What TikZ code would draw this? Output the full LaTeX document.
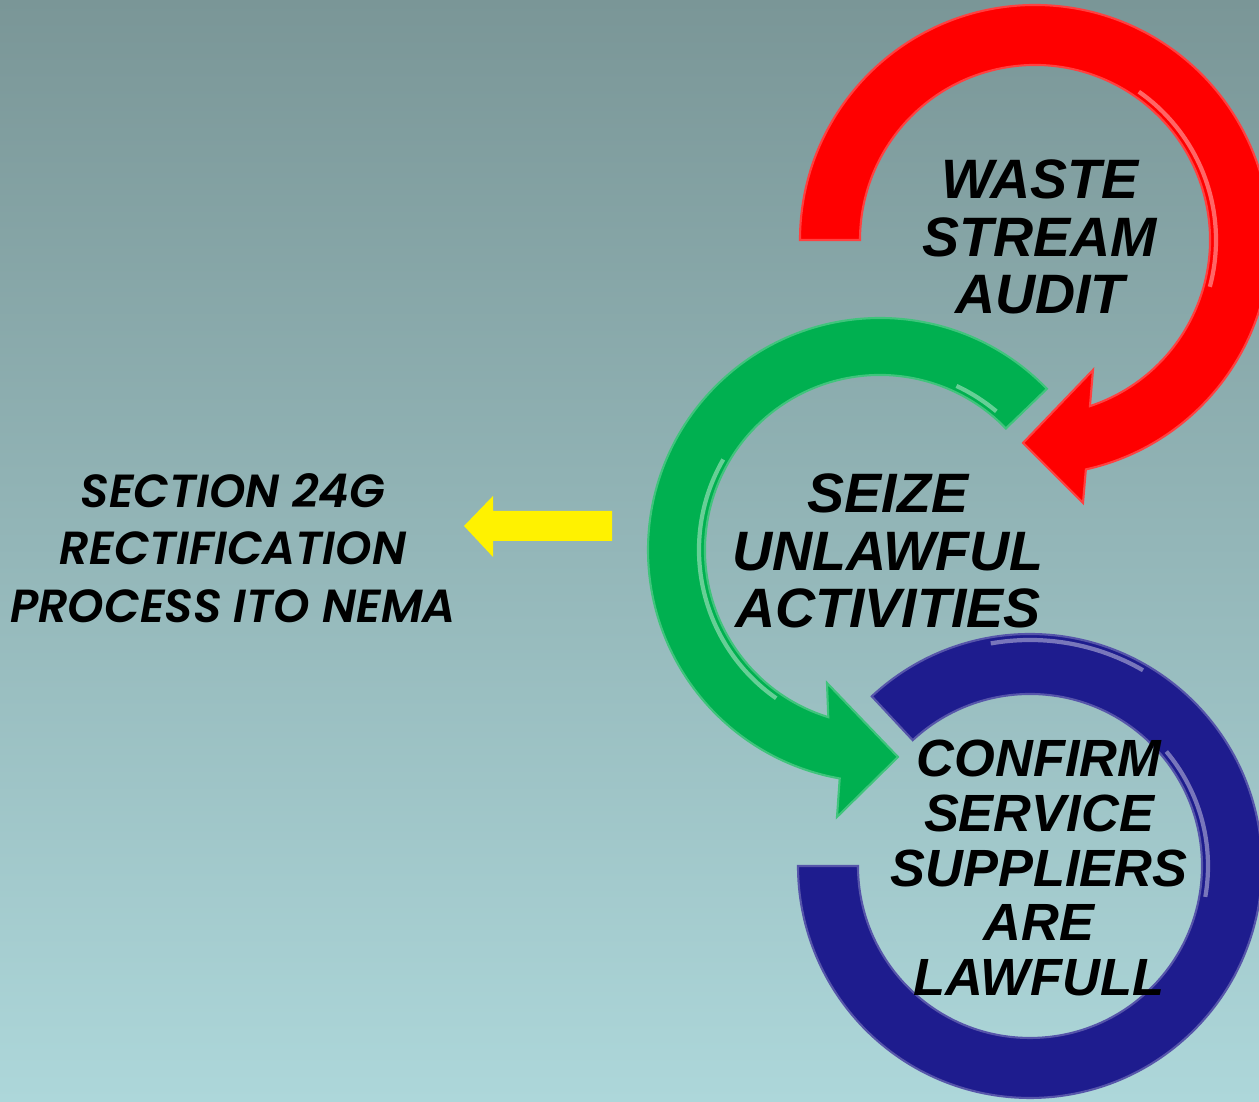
\documentclass[tikz,border=0pt]{standalone}
\usepackage{fontspec}
\setmainfont{Liberation Sans}
\newfontfamily\gothicfont{Poppins}[BoldItalicFont={Poppins SemiBold Italic}]

\definecolor{bgtop}{RGB}{122,150,151}
\definecolor{bgbottom}{RGB}{173,215,218}
\definecolor{ringred}{RGB}{255,0,0}
\definecolor{ringgreen}{RGB}{0,176,80}
\definecolor{ringblue}{RGB}{30,28,142}

\begin{document}
\begin{tikzpicture}[
    x=0.1mm, y=0.1mm,
    ring/.style={fill=#1, draw=#1!75!white, line width=0.6pt},
    shine/.style={draw=white, opacity=0.4, line width=1.2pt},
    ringtext/.style={font=\bfseries\itshape\fontsize{15.8}{16.4}\selectfont, align=center, inner sep=0pt},
    sidetext/.style={font=\gothicfont\bfseries\itshape\fontsize{13.2}{16.4}\selectfont, align=center, inner sep=0pt}
]
    % background
    \useasboundingbox (0,0) rectangle (1259,1102);
    \clip (0,0) rectangle (1259,1102);
    \fill[top color=bgtop, bottom color=bgbottom] (0,0) rectangle (1259,1102);

    % red ring
    \path[ring=ringred, shift={(1035,862)}]
        (180:235) arc[start angle=180, end angle=-77.5, radius=235]
        -- (48,-263) -- (-12,-203) -- (58,-130)
        -- (-71.7:175) arc[start angle=-71.7, end angle=180, radius=175] -- cycle;
    \draw[shine, shift={(1035,862)}] (55:181) arc[start angle=55, end angle=-15, radius=181];

    % green ring
    \path[ring=ringgreen, shift={(880,552)}]
        (44:232) arc[start angle=44, end angle=260, radius=232]
        -- (-43,-267) -- (18,-207) -- (-53,-133)
        -- (252.8:175) arc[start angle=252.8, end angle=44, radius=175] -- cycle;
    \draw[shine, shift={(880,552)}] (235:181) arc[start angle=235, end angle=150, radius=181];
    \draw[shine, shift={(880,552)}] (65:181) arc[start angle=65, end angle=50, radius=181];

    % blue ring
    \path[ring=ringblue, shift={(1030,236)}]
        (133:232) arc[start angle=133, end angle=-180, radius=232]
        -- (-180:172) arc[start angle=-180, end angle=133, radius=172] -- cycle;
    \draw[shine, shift={(1030,236)}] (100:226) arc[start angle=100, end angle=60, radius=226];
    \draw[shine, shift={(1030,236)}] (40:178) arc[start angle=40, end angle=-10, radius=178];

    % texts
    \node[ringtext] (audit) at (1040,865) {WASTE\\STREAM\\AUDIT};
    \node[ringtext] (seize) at (888,551) {SEIZE\\UNLAWFUL\\ACTIVITIES};
    \node[ringtext, font=\bfseries\itshape\fontsize{14.9}{15.6}\selectfont] (confirm) at (1039,234)
        {CONFIRM\\SERVICE\\SUPPLIERS\\ARE\\LAWFULL};
    \node[sidetext] (rectify) at (233,554) {SECTION 24G\\RECTIFICATION\\PROCESS ITO NEMA};

    % yellow arrow
    \coordinate (yarrow) at (612,576);
    \fill[yellow] (yarrow) ++(0,15) -- ++(-119,0) -- ++(0,15) -- ++(-29,-30)
        -- ++(29,-31) -- ++(0,16) -- ++(119,0) -- cycle;
\end{tikzpicture}
\end{document}
